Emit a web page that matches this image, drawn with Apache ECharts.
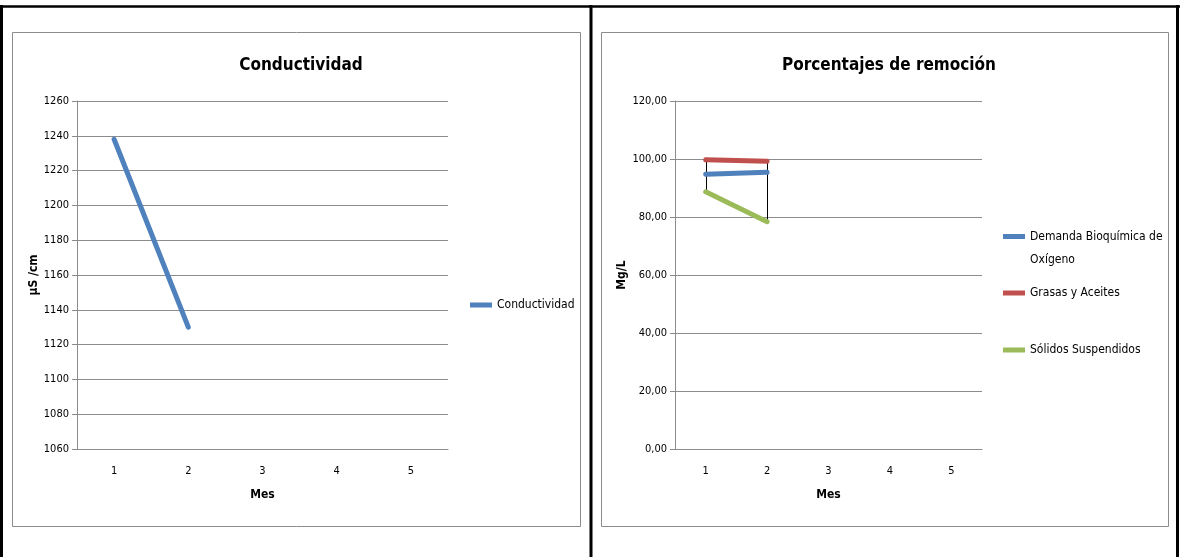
<!DOCTYPE html>
<html>
<head>
<meta charset="utf-8">
<script src="https://cdn.jsdelivr.net/npm/echarts@6/dist/echarts.min.js"></script>
<style>
html,body{margin:0;padding:0;background:#fff;}
#c{width:1180px;height:557px;}
</style>
</head>
<body>
<div id="c"></div>
<script>
// ---- data ----
const months = ['1', '2', '3', '4', '5'];
const conductividad = [1238, 1130];
const dbo = [94.7, 95.4];
const grasas = [99.7, 99.2];
const solidos = [88.7, 78.4];
const condTicks = [1060, 1260, 20];
const remTicks = [0, 120, 20];

const FONT = '"Liberation Sans Narrow", "DejaVu Sans Condensed", "Liberation Sans", sans-serif';
const BLUE = '#4F81BD', RED = '#C0504D', GREEN = '#9BBB59';
const GRID = '#8c8c8c';

// high-low lines data derived from series
const hiLo = months.map((m, i) => {
  const vals = [dbo[i], grasas[i], solidos[i]].filter(v => v !== undefined);
  return vals.length ? [i, Math.max(...vals), Math.min(...vals)] : null;
}).filter(Boolean);

const chart = echarts.init(document.getElementById('c'), null, {renderer: 'canvas'});

function yAxisBase(idx, range, fmt, name, gap) {
  return {
    type: 'value', gridIndex: idx, min: range[0], max: range[1], interval: range[2],
    name: name, nameLocation: 'middle', nameGap: gap, nameRotate: 90,
    nameTextStyle: {fontFamily: FONT, fontWeight: 'bold', fontSize: 12, color: '#000'},
    axisLine: {show: true, lineStyle: {color: GRID, width: 1}},
    axisTick: {show: true, length: 5, lineStyle: {color: GRID}},
    axisLabel: {fontFamily: FONT, fontSize: 11, color: '#000', margin: 8, formatter: fmt},
    splitLine: {show: true, lineStyle: {color: GRID, width: 1}}
  };
}
function xAxisBase(idx) {
  return {
    type: 'category', gridIndex: idx, data: months, boundaryGap: true,
    name: 'Mes', nameLocation: 'middle', nameGap: 40,
    nameTextStyle: {fontFamily: FONT, fontWeight: 'bold', fontSize: 12, color: '#000'},
    axisLine: {show: true, lineStyle: {color: GRID, width: 1}},
    axisTick: {show: false},
    axisLabel: {fontFamily: FONT, fontSize: 11, color: '#000', margin: 17}
  };
}

const legendText = {fontFamily: FONT, fontSize: 12, color: '#000'};

const option = {
  animation: false,
  backgroundColor: '#fff',
  graphic: [
    {type: 'rect', shape: {x: 12.5, y: 32.5, width: 568, height: 494}, style: {fill: '#fff', stroke: '#8c8c8c', lineWidth: 1}, z: -10},
    {type: 'rect', shape: {x: 601.5, y: 32.5, width: 567, height: 494}, style: {fill: '#fff', stroke: '#8c8c8c', lineWidth: 1}, z: -10},
    {type: 'line', shape: {x1: 0, y1: 6.5, x2: 1180, y2: 6.5}, style: {stroke: '#000', lineWidth: 2.5}},
    {type: 'line', shape: {x1: 1.5, y1: 5, x2: 1.5, y2: 557}, style: {stroke: '#000', lineWidth: 3}},
    {type: 'line', shape: {x1: 591, y1: 5, x2: 591, y2: 557}, style: {stroke: '#000', lineWidth: 3}},
    {type: 'line', shape: {x1: 1177.5, y1: 5, x2: 1177.5, y2: 557}, style: {stroke: '#000', lineWidth: 3}}
  ],
  title: [
    {text: 'Conductividad', left: 296, top: 52, textAlign: 'center',
     textStyle: {fontFamily: FONT, fontWeight: 'bold', fontSize: 17, color: '#000'}},
    {text: 'Porcentajes de remoción', left: 884, top: 52, textAlign: 'center',
     textStyle: {fontFamily: FONT, fontWeight: 'bold', fontSize: 17, color: '#000'}}
  ],
  legend: [
    {data: [{name: 'Conductividad', icon: 'rect', itemStyle: {color: BLUE}}], left: 465, top: 294, itemWidth: 22, itemHeight: 5, textStyle: legendText, selectedMode: false},
    {data: [{name: 'Demanda Bioquímica de\nOxígeno', icon: 'rect', itemStyle: {color: BLUE}}], left: 998, top: 197, itemWidth: 22, itemHeight: 5,
     formatter: name => '\n' + name,
     textStyle: Object.assign({}, legendText, {lineHeight: 23}), selectedMode: false},
    {data: [{name: 'Grasas y Aceites', icon: 'rect', itemStyle: {color: RED}}], left: 998, top: 282, itemWidth: 22, itemHeight: 5, textStyle: legendText, selectedMode: false},
    {data: [{name: 'Sólidos Suspendidos', icon: 'rect', itemStyle: {color: GREEN}}], left: 998, top: 339, itemWidth: 22, itemHeight: 5, textStyle: legendText, selectedMode: false}
  ],
  grid: [
    {left: 77, top: 101, width: 371, height: 348},
    {left: 675, top: 101, width: 307, height: 348}
  ],
  xAxis: [xAxisBase(0), xAxisBase(1)],
  yAxis: [
    yAxisBase(0, condTicks, v => String(v), 'µS /cm', 37),
    yAxisBase(1, remTicks, v => v.toFixed(2).replace('.', ','), 'Mg/L', 47)
  ],
  series: [
    {name: 'Conductividad', type: 'line', xAxisIndex: 0, yAxisIndex: 0, data: conductividad,
     symbol: 'none', lineStyle: {color: BLUE, width: 5, cap: 'round'}, itemStyle: {color: BLUE}, z: 3},
    {name: 'hilo', type: 'custom', xAxisIndex: 1, yAxisIndex: 1, data: hiLo, z: 1,
     renderItem: function (params, api) {
       const p1 = api.coord([api.value(0), api.value(1)]);
       const p2 = api.coord([api.value(0), api.value(2)]);
       return {type: 'line', shape: {x1: Math.round(p1[0]) + 0.5, y1: p1[1], x2: Math.round(p2[0]) + 0.5, y2: p2[1]}, style: {stroke: '#000', lineWidth: 1}};
     }},
    {name: 'Demanda Bioquímica de\nOxígeno', type: 'line', xAxisIndex: 1, yAxisIndex: 1, data: dbo,
     symbol: 'none', lineStyle: {color: BLUE, width: 5, cap: 'round'}, itemStyle: {color: BLUE}, z: 3},
    {name: 'Grasas y Aceites', type: 'line', xAxisIndex: 1, yAxisIndex: 1, data: grasas,
     symbol: 'none', lineStyle: {color: RED, width: 5, cap: 'round'}, itemStyle: {color: RED}, z: 3},
    {name: 'Sólidos Suspendidos', type: 'line', xAxisIndex: 1, yAxisIndex: 1, data: solidos,
     symbol: 'none', lineStyle: {color: GREEN, width: 5, cap: 'round'}, itemStyle: {color: GREEN}, z: 3}
  ]
};
chart.setOption(option);
</script>
</body>
</html>
